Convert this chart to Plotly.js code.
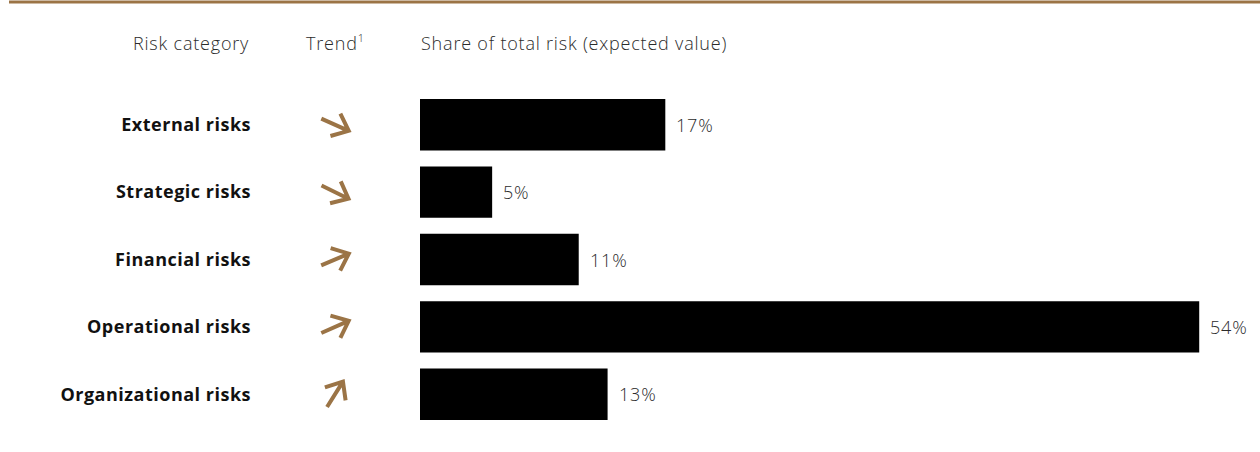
<!DOCTYPE html>
<html>
<head>
<meta charset="utf-8">
<script src="https://cdn.plot.ly/plotly-3.0.1.min.js"></script>
<style>
  html, body { margin: 0; padding: 0; background: #ffffff; }
  #chart { width: 1260px; height: 452px; }
  text.annotation-text { letter-spacing: 0.8px; }
  g.ytick text { letter-spacing: 0.5px; }
</style>
</head>
<body>
<div id="chart"></div>
<script>
// ---- Data ----
const categories = ["External risks", "Strategic risks", "Financial risks", "Operational risks", "Organizational risks"];
const shareValues = [17, 5, 11, 54, 13];           // share of total risk, %
const trendAngles = [-24, -26, 23, 24, 58];         // trend arrow direction, degrees (positive = upward)
const headerLabels = ["Risk category", "Trend<sup><span style=\"font-size:11px\">1</span></sup>", "Share of total risk (expected value)"];

// ---- Layout constants ----
const W = 1260, H = 452;
const ML = 420, MR = 0, MT = 90.75, MB = 23.75;
const plotW = W - ML - MR, plotH = H - MT - MB;
const pxX = p => (p - ML) / plotW;            // pixel x -> paper x
const pxY = p => (H - MB - p) / plotH;        // pixel y -> paper y

const brown = "#9b7446";
const lightFont = { family: "'Open Sans', 'Noto Sans', sans-serif", size: 18, color: "#2b2b2b", weight: 300 };
const boldFont = { family: "'Open Sans', 'Noto Sans', sans-serif", size: 18, color: "#111111", weight: 700 };

const trace = {
  type: "bar",
  orientation: "h",
  x: shareValues,
  y: categories,
  marker: { color: "#000000", line: { width: 0 } },
  hoverinfo: "skip",
  showlegend: false
};

// value labels
const annotations = shareValues.map((v, i) => ({
  x: v, y: categories[i], xref: "x", yref: "y",
  text: v + "%", showarrow: false,
  xanchor: "left", yanchor: "middle", xshift: 9,
  font: lightFont
}));

// header labels
const headerX = [251, 304, 419];
const headerAnchor = ["right", "left", "left"];
headerLabels.forEach((t, i) => {
  annotations.push({
    x: pxX(headerX[i]), y: 1, xref: "paper", yref: "paper",
    yshift: MT - 42.5, text: t, showarrow: false,
    xanchor: headerAnchor[i], yanchor: "middle",
    font: lightFont
  });
});

// trend arrows (pixel-sized shapes anchored to each category row)
const shapes = [];
const L = 30, armLen = 19, armAng = 40;
const arrowCx = pxX(335);
trendAngles.forEach((a, i) => {
  const r = a * Math.PI / 180;
  const dx = Math.cos(r) * L / 2, dy = Math.sin(r) * L / 2;
  const tx = -dx, ty = -dy, hx = dx, hy = dy;
  const back = r + Math.PI;
  const a1 = back + armAng * Math.PI / 180, a2 = back - armAng * Math.PI / 180;
  const p1x = hx + armLen * Math.cos(a1), p1y = hy + armLen * Math.sin(a1);
  const p2x = hx + armLen * Math.cos(a2), p2y = hy + armLen * Math.sin(a2);
  const f = n => n.toFixed(2);
  shapes.push({
    type: "path", xref: "paper", yref: "y",
    xsizemode: "pixel", ysizemode: "pixel",
    xanchor: arrowCx, yanchor: i,
    path: `M${f(tx)},${f(ty)} L${f(hx)},${f(hy)} M${f(p1x)},${f(p1y)} L${f(hx)},${f(hy)} L${f(p2x)},${f(p2y)}`,
    line: { color: brown, width: 4 }
  });
});

// top rule
shapes.push({
  type: "line", xref: "paper", yref: "paper",
  x0: pxX(9), x1: pxX(W), y0: pxY(1.5), y1: pxY(1.5),
  line: { color: brown, width: 3 }
});

const layout = {
  width: W, height: H,
  margin: { l: ML, r: MR, t: MT, b: MB, pad: 0 },
  paper_bgcolor: "#ffffff", plot_bgcolor: "#ffffff",
  bargap: 0.237,
  xaxis: {
    range: [0, plotW / 14.43],
    showgrid: false, zeroline: false, showline: false,
    showticklabels: false, ticks: "", fixedrange: true
  },
  yaxis: {
    type: "category",
    categoryorder: "array", categoryarray: categories,
    autorange: "reversed",
    showgrid: false, zeroline: false, showline: false,
    ticks: "", showticklabels: true,
    tickfont: boldFont,
    ticklabelstandoff: 168,
    automargin: false, fixedrange: true
  },
  annotations: annotations,
  shapes: shapes,
  showlegend: false
};

Plotly.newPlot("chart", [trace], layout, { displayModeBar: false, staticPlot: true });
</script>
</body>
</html>
